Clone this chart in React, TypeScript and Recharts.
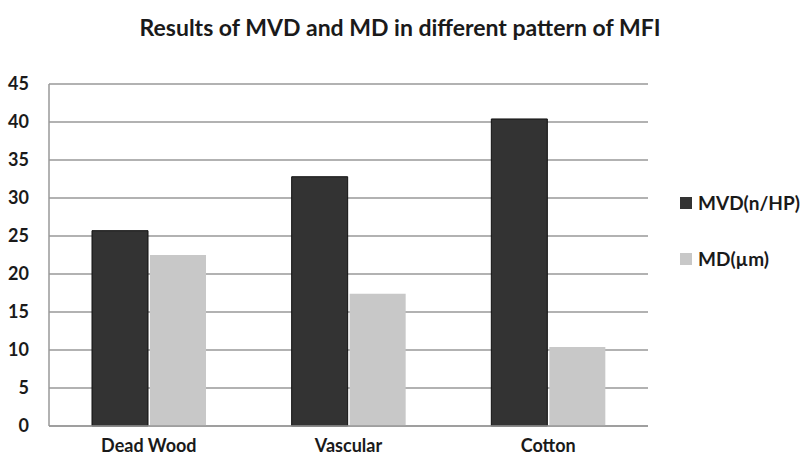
import React from 'react';
import { BarChart, Bar, XAxis, YAxis, CartesianGrid } from 'recharts';

const categories = ['Dead Wood', 'Vascular', 'Cotton'];
const mvdValues = [25.7, 32.8, 40.4];
const mdValues = [22.5, 17.4, 10.4];
const yTicks = [0, 5, 10, 15, 20, 25, 30, 35, 40, 45];

const DARK = '#333333';
const LIGHT = '#c8c8c8';
const TEXT = '#1a1a1a';
const FONT = 'Lato, "Open Sans", sans-serif';

const data = categories.map((name, i) => ({
    name,
    mvd: mvdValues[i],
    md: mdValues[i],
}));

const legendItems = [
    { label: 'MVD(n/HP)', color: DARK, top: 191 },
    { label: 'MD(\u00b5m)', color: LIGHT, top: 247 },
];

const App: React.FC = () => {
    return (
        <div style={{ position: 'absolute', left: 0, top: 0, width: 800, height: 463, background: '#fff', fontFamily: FONT }}>
            <div
                style={{
                    position: 'absolute',
                    top: 13,
                    left: 0,
                    width: 800,
                    textAlign: 'center',
                    fontSize: 23,
                    fontWeight: 700,
                    color: TEXT,
                }}
            >
                Results of MVD and MD in different pattern of MFI
            </div>

            <BarChart
                width={800}
                height={463}
                data={data}
                margin={{ top: 84, right: 152, bottom: 7, left: 0 }}
                barGap={2}
                barCategoryGap={43}
            >
                <CartesianGrid vertical={false} stroke="#999" strokeWidth={1.5} />
                <XAxis
                    dataKey="name"
                    height={30}
                    axisLine={{ stroke: '#999', strokeWidth: 1.5 }}
                    tickLine={false}
                    tick={{ fill: TEXT, fontSize: 18, fontWeight: 700, fontFamily: FONT }}
                    tickMargin={7}
                />
                <YAxis
                    width={49}
                    domain={[0, 45]}
                    ticks={yTicks}
                    interval={0}
                    axisLine={{ stroke: '#999', strokeWidth: 1.5 }}
                    tickLine={false}
                    tickSize={6}
                    tickMargin={14}
                    tick={{ fill: TEXT, fontSize: 18, fontWeight: 700, fontFamily: FONT }}
                />
                <Bar dataKey="mvd" fill={DARK} stroke="#111" strokeWidth={1} isAnimationActive={false} />
                <Bar dataKey="md" fill={LIGHT} isAnimationActive={false} />
            </BarChart>

            {legendItems.map((item) => (
                <div
                    key={item.label}
                    style={{
                        position: 'absolute',
                        left: 680,
                        top: item.top,
                        display: 'flex',
                        alignItems: 'center',
                        fontSize: 19,
                        fontWeight: 700,
                        color: TEXT,
                    }}
                >
                    <span style={{ display: 'inline-block', width: 12, height: 12, background: item.color, marginRight: 6 }} />
                    {item.label}
                </div>
            ))}
        </div>
    );
};

export default App;
